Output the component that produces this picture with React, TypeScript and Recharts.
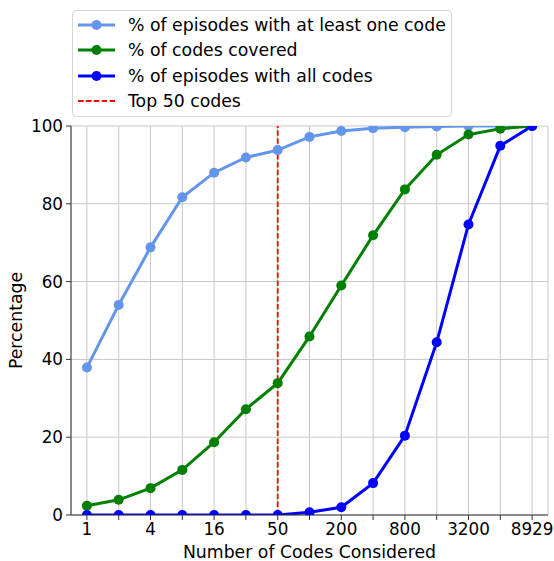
import React from 'react';
import { LineChart, Line, XAxis, YAxis, CartesianGrid, ReferenceLine, Legend } from 'recharts';

const codeCounts = ['1', '2', '4', '8', '16', '32', '50', '100', '200', '400', '800', '1600', '3200', '6400', '8929'];
const labeledTicks = ['1', '4', '16', '50', '200', '800', '3200', '8929'];
const atLeastOne = [37.9, 54.0, 68.8, 81.7, 88.0, 91.9, 93.8, 97.2, 98.7, 99.4, 99.7, 99.9, 100, 100, 100];
const codesCovered = [2.4, 3.9, 6.9, 11.6, 18.7, 27.2, 33.9, 45.9, 59.0, 71.9, 83.7, 92.6, 97.8, 99.3, 100];
const allCodes = [0, 0, 0, 0, 0, 0, 0, 0.7, 2.0, 8.2, 20.4, 44.4, 74.7, 94.9, 100];
const yTicks = [0, 20, 40, 60, 80, 100];
const topCodes = '50';

const data = codeCounts.map((c, i) => ({
  idx: i,
  codes: c,
  atLeastOne: atLeastOne[i],
  codesCovered: codesCovered[i],
  allCodes: allCodes[i],
}));
const xTicks = codeCounts.map((_, i) => i);

const FONT = 'DejaVu Sans, sans-serif';
const FS = 16.8;
const LFS = 17.3;

const legendItems = [
  { label: '% of episodes with at least one code', color: '#6495ED', dashed: false },
  { label: '% of codes covered', color: '#008000', dashed: false },
  { label: '% of episodes with all codes', color: '#0000FF', dashed: false },
  { label: 'Top 50 codes', color: '#FF0000', dashed: true },
];

const LegendBox = () => (
  <div
    style={{
      position: 'absolute',
      left: 72,
      top: 10,
      width: 380,
      height: 107,
      border: '1px solid #d6d6d6',
      borderRadius: 4,
      background: 'white',
      boxSizing: 'border-box',
      fontFamily: FONT,
      fontSize: LFS,
      color: '#000',
    }}
  >
    {legendItems.map((it, i) => (
      <div key={i} style={{ position: 'absolute', left: 0, top: 1 + i * 25.4, height: 26, display: 'flex', alignItems: 'center' }}>
        <svg width={55} height={20} style={{ display: 'block' }}>
          {it.dashed ? (
            <line x1={5} y1={10} x2={42} y2={10} stroke={it.color} strokeWidth={2} strokeDasharray="5.5 2.4" />
          ) : (
            <>
              <line x1={5} y1={10} x2={42} y2={10} stroke={it.color} strokeWidth={3} />
              <circle cx={23.5} cy={10} r={5} fill={it.color} />
            </>
          )}
        </svg>
        <span style={{ whiteSpace: 'nowrap' }}>{it.label}</span>
      </div>
    ))}
  </div>
);

export default function App() {
  const topIdx = codeCounts.indexOf(topCodes);
  return (
    <div style={{ position: 'absolute', left: 0, top: 0, width: 554, height: 561, background: 'white' }}>
      <LineChart
        width={554}
        height={561}
        data={data}
        margin={{ top: 126, right: 6, left: 0, bottom: 0 }}
        style={{ fontFamily: FONT }}
      >
        <CartesianGrid stroke="#c8c8c8" strokeWidth={1} horizontal vertical />
        <XAxis
          type="number"
          dataKey="idx"
          domain={[-0.5, 14.5]}
          ticks={xTicks}
          interval={0}
          allowDataOverflow
          height={46}
          tickFormatter={(v: number) => (labeledTicks.includes(codeCounts[v]) ? codeCounts[v] : '')}
          tick={{ fill: '#000', fontSize: FS, fontFamily: FONT }}
          tickSize={5}
          tickMargin={3}
          stroke="#333"
          label={{ value: 'Number of Codes Considered', position: 'insideBottom', offset: 3, fill: '#000', fontSize: LFS, fontFamily: FONT }}
        />
        <YAxis
          type="number"
          domain={[0, 100]}
          ticks={yTicks}
          interval={0}
          allowDataOverflow
          width={71}
          tick={{ fill: '#000', fontSize: FS, fontFamily: FONT }}
          tickSize={5}
          tickMargin={3}
          stroke="#333"
          label={{ value: 'Percentage', angle: -90, position: 'insideLeft', offset: 16, fill: '#000', fontSize: LFS, fontFamily: FONT, style: { textAnchor: 'middle' } }}
        />
        <XAxis xAxisId="top" orientation="top" type="number" domain={[-0.5, 14.5]} tick={false} tickLine={false} stroke="#333" height={0} />
        <YAxis yAxisId="right" orientation="right" domain={[0, 100]} tick={false} tickLine={false} stroke="#333" width={0} />
        <ReferenceLine x={topIdx} stroke="#FF0000" strokeWidth={1.8} strokeDasharray="5.5 2.4" />
        <Line
          dataKey="atLeastOne"
          stroke="#6495ED"
          strokeWidth={3}
          dot={{ r: 5, fill: '#6495ED', stroke: '#6495ED', strokeWidth: 0 }}
          isAnimationActive={false}
          type="linear"
        />
        <Line
          dataKey="codesCovered"
          stroke="#008000"
          strokeWidth={3}
          dot={{ r: 5, fill: '#008000', stroke: '#008000', strokeWidth: 0 }}
          isAnimationActive={false}
          type="linear"
        />
        <Line
          dataKey="allCodes"
          stroke="#0000FF"
          strokeWidth={3}
          dot={{ r: 5, fill: '#0000FF', stroke: '#0000FF', strokeWidth: 0 }}
          isAnimationActive={false}
          type="linear"
        />
        <Legend content={() => null} />
      </LineChart>
      <LegendBox />
    </div>
  );
}
